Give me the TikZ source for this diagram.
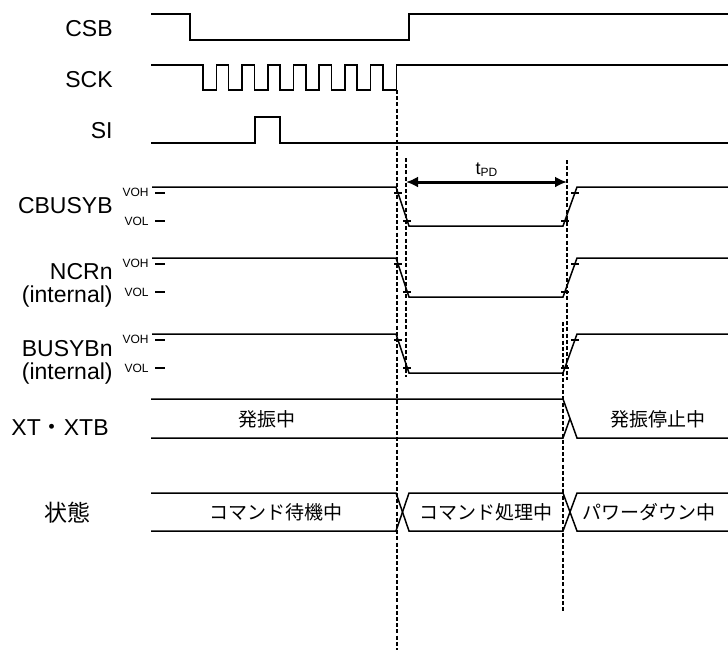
\documentclass[tikz,border=0pt]{standalone}
\usepackage{fontspec}
\setmainfont{Liberation Sans}
\newfontfamily\jpfont{Noto Sans CJK JP}
\usetikzlibrary{arrows.meta}
\tikzstyle{wave} = [draw=black,line width=0.75pt]
\tikzstyle{tick} = [draw=black,line width=0.6pt]
\tikzstyle{guide} = [draw=black,line width=0.95pt,dash pattern=on 2pt off 1.1pt]
\tikzstyle{tparrow} = [draw=black,line width=1.5pt,{Latex[length=6pt,width=5.5pt]}-{Latex[length=6pt,width=5.5pt]}]
\tikzstyle{signame} = [anchor=east,inner sep=0pt,align=right,font=\fontsize{11.5}{11.5}\selectfont]
\tikzstyle{lvl} = [anchor=east,inner sep=0pt,font=\fontsize{6}{6}\selectfont]
\tikzstyle{phase} = [inner sep=0pt,font=\jpfont\fontsize{9.5}{9.5}\selectfont]

\begin{document}
\begin{tikzpicture}[x=0.5pt,y=-0.5pt]
  \useasboundingbox (0,0) rectangle (728,650);
  \node[signame] (csb) at (113,28.5) {CSB};
  \node[signame] (sck) at (113,80) {SCK};
  \node[signame] (si) at (113,130.5) {SI};
  \node[signame] (cbusyb) at (113,205.5) {CBUSYB};
  \node[signame] (ncrn) at (113,285) {NCRn\\(internal)};
  \node[signame] (busybn) at (113,362) {BUSYBn\\(internal)};
  \node[signame] (xt) at (109,427.5) {XT{\jpfont ・}XTB};
  \node[signame,anchor=center,font=\jpfont\fontsize{11.5}{11.5}\selectfont] (state) at (67,513) {状態};

  \draw[wave] (151,14) -- (190,14) -- (190,40) -- (409,40) -- (409,14) -- (728,14);
  \draw[wave] (151,65) foreach \i in {0,...,7} { -- ({203+25.7*\i},65) -- ++(0,25) -- ++(13.4,0) -- ++(0,-25) } -- (728,65);
  \draw[wave] (151,143) -- (255,143) -- (255,117) -- (280,117) -- (280,143) -- (728,143);

  \foreach \y in {187,258,334} {
    \draw[wave] (152,\y) -- (396,\y) -- (409,\y+39) -- (563,\y+39) -- (577,\y) -- (728,\y);
    \draw[tick] (394,\y+6) -- ++(8,0) (403,\y+34) -- ++(8,0) (561,\y+34) -- ++(8,0) (571,\y+6) -- ++(8,0);
    \draw[tick] (155,\y+6) -- (165,\y+6) (155,\y+34) -- (165,\y+34);
    \node[lvl] (voh\y) at (149,\y+5) {VOH};
    \node[lvl] (vol\y) at (149,\y+34) {VOL};
  }

  \draw[wave] (151,399) -- (563,399) -- (577,438) -- (728,438);
  \draw[wave] (151,438) -- (563,438) -- (570,418.5);
  \node[phase] (osc) at (267,419) {発振中};
  \node[phase] (oscstop) at (658,419) {発振停止中};

  \draw[wave] (151,493) -- (396,493) -- (409,531) -- (563,531) -- (577,493) -- (728,493);
  \draw[wave] (151,531) -- (396,531) -- (409,493) -- (563,493) -- (577,531) -- (728,531);
  \node[phase] (wait) at (276,512.5) {コマンド待機中};
  \node[phase] (proc) at (486,512.5) {コマンド処理中};
  \node[phase] (pdown) at (649,512.5) {パワーダウン中};

  \draw[guide] (397,90) -- (397,650);
  \draw[guide] (406,158) -- (406,377);
  \draw[guide] (567,160) -- (567,380);
  \draw[guide] (563,322) -- (563,612);

  \coordinate (pdL) at (406,182);
  \coordinate (pdR) at (567,182);
  \draw[tparrow] (pdL) -- (pdR);
  \node[inner sep=0pt,font=\fontsize{9}{9}\selectfont] (tpd) at (487,170) {t\textsubscript{PD}};
\end{tikzpicture}
\end{document}
